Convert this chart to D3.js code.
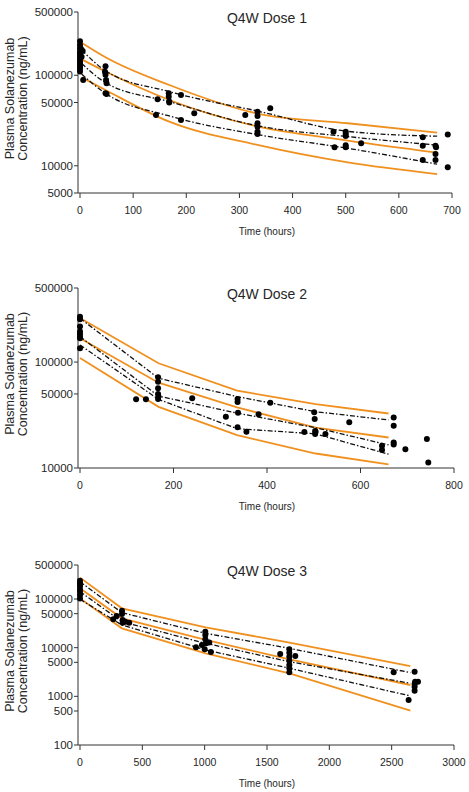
<!DOCTYPE html>
<html>
<head>
<meta charset="utf-8">
<script src="https://cdn.jsdelivr.net/npm/d3@7"></script>
<style>
  body { margin: 0; background: #fff; }
  svg text { font-family: Arial, 'Liberation Sans', sans-serif; fill: #262626; }
</style>
</head>
<body>
<svg id="chart" width="469" height="792"></svg>
<script>
// ---- Dose 1 ----
let d1Times = [3, 48, 168, 336, 504, 672]
let d1PredHigh = [229000, 158000, 78000, 37500, 29500, 23200]
let d1PredMed = [150000, 110000, 53300, 27000, 19000, 14000]
let d1PredLow = [94800, 68700, 30700, 16900, 10900, 8100]
let d1ObsHigh = [190000, 112000, 65900, 40000, 24000, 21200]
let d1ObsMed = [135000, 82800, 51100, 27500, 21000, 16900]
let d1ObsLow = [103000, 63100, 35500, 22000, 15600, 10400]
let d1PointTimes = [0, 0, 0, 0, 0, 0, 0, 0, 0, 0, 0, 0, 2, 3, 5, 6,
  48, 47, 48, 49, 50, 48, 50,
  143, 146, 167, 167, 168, 168, 190, 190, 215, 311,
  334, 334, 334, 334, 334, 334, 358,
  477, 479, 500, 500, 500, 500, 500, 529,
  645, 645, 645, 669, 670, 669, 669, 692, 692]
let d1PointConcs = [238000, 216000, 199000, 182000, 172000, 161000, 150000, 141000, 133000, 124000, 119000, 110000, 195000, 160000, 185000, 88800,
  126000, 109000, 101000, 88800, 81500, 63200, 62100,
  36400, 54200, 63200, 58000, 51300, 50000, 60500, 32000, 38000, 36400,
  39600, 35500, 29400, 27000, 23800, 22400, 43200,
  23800, 16000, 23800, 22400, 21300, 16900, 16000, 17700,
  20600, 16600, 11600, 16600, 16000, 13500, 11600, 22200, 9620]

// ---- Dose 2 ----
let d2Times = [0, 168, 336, 504, 660]
let d2PredHigh = [260000, 97400, 53700, 40100, 32700]
let d2PredMed = [168000, 63900, 37300, 24100, 19400]
let d2PredLow = [109000, 37800, 20400, 13700, 10800]
let d2ObsHigh = [259000, 70300, 47200, 34000, 28400]
let d2ObsMed = [174000, 47700, 33000, 24000, 16500]
let d2ObsLow = [145000, 44400, 23500, 21000, 13500]
let d2PointTimes = [0, 0, 0, 0, 0, 0, 0, 0, 120, 141,
  167, 167, 167, 167, 168, 167, 240, 312,
  337, 337, 338, 337, 356, 382, 407,
  501, 502, 480, 503, 504, 503, 525, 576,
  646, 646, 671, 671, 671, 671, 696, 742, 745]
let d2PointConcs = [268000, 253000, 216000, 194000, 184000, 174000, 168000, 135000, 44600, 44600,
  71900, 65300, 56600, 50000, 47200, 44800, 45500, 30500,
  44800, 42000, 33300, 24300, 22000, 32200, 41400,
  33600, 29000, 21900, 22400, 22000, 20900, 20900, 27000,
  16200, 14800, 29900, 25100, 17400, 16700, 15000, 18800, 11300]

// ---- Dose 3 ----
let d3Times = [0, 336, 1008, 1680, 2650]
let d3PredHigh = [275000, 64400, 26200, 12700, 4200]
let d3PredMed = [166000, 40100, 14400, 5770, 1710]
let d3PredLow = [103000, 25000, 7660, 2970, 508]
let d3ObsHigh = [227000, 52400, 19700, 9700, 3070]
let d3ObsMed = [142000, 34200, 12300, 5160, 1850]
let d3ObsLow = [98600, 29200, 8960, 3770, 1020]
let d3PointTimes = [0, 0, 0, 0, 0, 0, 0, 267, 294,
  337, 337, 342, 342, 363, 395,
  930, 978, 1005, 1005, 1005, 1010, 1000, 1020, 1037, 1050,
  1606, 1679, 1679, 1679, 1679, 1679, 1679, 1679, 1727,
  2516, 2636, 2684, 2688, 2684, 2684, 2684, 2711]
let d3PointConcs = [238000, 210000, 185000, 158000, 141000, 121000, 103000, 38300, 44800,
  57500, 49200, 37100, 32700, 34200, 32700,
  10200, 11400, 21300, 18200, 14900, 12300, 9270, 12700, 12700, 8150,
  7410, 9270, 7890, 6530, 5410, 4410, 3770, 3120, 6750,
  3120, 841, 3210, 2000, 1790, 1580, 1310, 2000]

let panels = [
  { title: 'Q4W Dose 1', top: 12, bottom: 193, right: 452, curve: d3.curveMonotoneX,
    xMax: 700, xTicks: d3.range(0, 701, 100),
    yDomain: [5000, 500000], yTicks: [5000, 10000, 50000, 100000, 500000],
    times: d1Times, pred: [d1PredHigh, d1PredMed, d1PredLow], obs: [d1ObsHigh, d1ObsMed, d1ObsLow],
    pt: d1PointTimes, pc: d1PointConcs },
  { title: 'Q4W Dose 2', top: 288, bottom: 468, right: 454, curve: d3.curveLinear,
    xMax: 800, xTicks: d3.range(0, 801, 200),
    yDomain: [10000, 500000], yTicks: [10000, 50000, 100000, 500000],
    times: d2Times, pred: [d2PredHigh, d2PredMed, d2PredLow], obs: [d2ObsHigh, d2ObsMed, d2ObsLow],
    pt: d2PointTimes, pc: d2PointConcs },
  { title: 'Q4W Dose 3', top: 565, bottom: 745, right: 454, curve: d3.curveLinear,
    xMax: 3000, xTicks: d3.range(0, 3001, 500),
    yDomain: [100, 500000], yTicks: [100, 500, 1000, 5000, 10000, 50000, 100000, 500000],
    times: d3Times, pred: [d3PredHigh, d3PredMed, d3PredLow], obs: [d3ObsHigh, d3ObsMed, d3ObsLow],
    pt: d3PointTimes, pc: d3PointConcs },
]

let svg = d3.select('#chart')
let left = 80
let axisX = 78
let orange = '#f0901e'

panels.forEach(p => drawPanel(p))

function drawPanel(p) {
  let g = svg.append('g')
  let x = d3.scaleLinear().domain([0, p.xMax]).range([left, p.right])
  let y = d3.scaleLog().domain(p.yDomain).range([p.bottom, p.top])

  // y axis
  g.append('line')
    .attr('x1', axisX).attr('x2', axisX)
    .attr('y1', p.top).attr('y2', p.bottom)
    .attr('stroke', '#333').attr('stroke-width', 1)
  g.selectAll('line.ytick')
    .data(p.yTicks)
    .join('line')
    .attr('class', 'ytick')
    .attr('x1', axisX - 4).attr('x2', axisX)
    .attr('y1', d => y(d)).attr('y2', d => y(d))
    .attr('stroke', '#333')
  g.selectAll('text.ylab')
    .data(p.yTicks)
    .join('text')
    .attr('class', 'ylab')
    .attr('x', axisX - 5)
    .attr('y', d => y(d) + 4)
    .attr('text-anchor', 'end')
    .style('font-size', '11.5px')
    .text(d => d)

  // x axis
  g.append('line')
    .attr('x1', axisX).attr('x2', p.right)
    .attr('y1', p.bottom).attr('y2', p.bottom)
    .attr('stroke', '#333')
  g.selectAll('line.xtick')
    .data(p.xTicks)
    .join('line')
    .attr('class', 'xtick')
    .attr('x1', d => x(d)).attr('x2', d => x(d))
    .attr('y1', p.bottom).attr('y2', p.bottom + 5)
    .attr('stroke', '#333')
  g.selectAll('text.xlab')
    .data(p.xTicks)
    .join('text')
    .attr('class', 'xlab')
    .attr('x', d => x(d))
    .attr('y', p.bottom + 21)
    .attr('text-anchor', 'middle')
    .style('font-size', '10.5px')
    .text(d => d)

  g.append('text')
    .attr('x', 267).attr('y', p.bottom + 42)
    .attr('text-anchor', 'middle')
    .style('font-size', '10px')
    .text('Time (hours)')

  let cy = (p.top + p.bottom) / 2 - 4
  g.append('text')
    .attr('transform', `translate(14,${cy}) rotate(-90)`)
    .attr('text-anchor', 'middle')
    .style('font-size', '12.5px')
    .text('Plasma Solanezumab')
  g.append('text')
    .attr('transform', `translate(27,${cy}) rotate(-90)`)
    .attr('text-anchor', 'middle')
    .style('font-size', '12.5px')
    .text('Concentration (ng/mL)')

  g.append('text')
    .attr('x', 267).attr('y', p.top + 11)
    .attr('text-anchor', 'middle')
    .style('font-size', '14px')
    .text(p.title)

  let line = d3.line()
    .x((d, i) => x(p.times[i]))
    .y(d => y(d))
    .curve(p.curve)

  g.selectAll('path.pred')
    .data(p.pred)
    .join('path')
    .attr('class', 'pred')
    .attr('d', line)
    .attr('fill', 'none')
    .attr('stroke', orange)
    .attr('stroke-width', 1.8)

  g.selectAll('path.obs')
    .data(p.obs)
    .join('path')
    .attr('class', 'obs')
    .attr('d', line)
    .attr('fill', 'none')
    .attr('stroke', '#111')
    .attr('stroke-width', 1.3)
    .attr('stroke-dasharray', '5,2,1.5,2')

  g.selectAll('circle')
    .data(p.pt)
    .join('circle')
    .attr('cx', d => x(d))
    .attr('cy', (d, i) => y(p.pc[i]))
    .attr('r', 3)
    .attr('fill', '#000')
}
</script>
</body>
</html>
